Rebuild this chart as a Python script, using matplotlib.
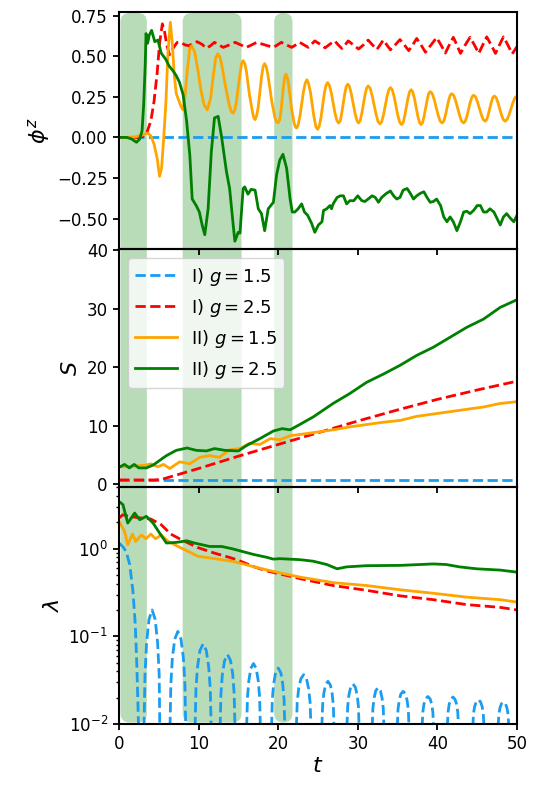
import numpy as np
import matplotlib
matplotlib.use("Agg")
import matplotlib.pyplot as plt
from matplotlib.patches import FancyBboxPatch
from matplotlib.transforms import IdentityTransform

# ---------------- data ----------------
labels = ["I) $g = 1.5$", "I) $g = 2.5$", "II) $g = 1.5$", "II) $g = 2.5$"]
colors = ['#1a9cf0', 'red', 'orange', 'green']
styles = ['--', '--', '-', '-']

shade_start = [0.2, 8.0, 19.5]
shade_end = [3.5, 15.4, 21.8]

# phi^z
phi_I15 = [(0, 0.0), (50, 0.0)]
phi_I25 = [(0, 0), (2.5, 0), (3.0, 0.005), (3.5, 0.03), (4.0, 0.1), (4.4, 0.22), (4.8, 0.40), (5.1, 0.58),
           (5.45, 0.70), (5.7, 0.66), (6.0, 0.57), (6.35, 0.51), (6.8, 0.55), (7.3, 0.585), (7.8, 0.585),
           (8.3, 0.57), (8.8, 0.565), (9.3, 0.58), (9.8, 0.59), (10.4, 0.575), (11.0, 0.55), (11.5, 0.565),
           (12.0, 0.586), (12.55, 0.57), (13.1, 0.555), (13.85, 0.57), (14.6, 0.586), (15.3, 0.57),
           (16.0, 0.555), (16.65, 0.57), (17.3, 0.586), (18.35, 0.57), (19.4, 0.555), (19.9, 0.57),
           (20.4, 0.586), (21.05, 0.57), (21.7, 0.555), (22.2, 0.57), (22.7, 0.586), (23.25, 0.57),
           (23.8, 0.555), (24.2, 0.575), (24.6, 0.595), (25.25, 0.575), (25.9, 0.552), (26.5, 0.575),
           (27.1, 0.595), (27.55, 0.57), (28.0, 0.548), (28.4, 0.57), (28.8, 0.595), (29.45, 0.57),
           (30.1, 0.545), (30.7, 0.57), (31.3, 0.6), (31.85, 0.57), (32.4, 0.542), (32.8, 0.57), (33.2, 0.6),
           (33.65, 0.57), (34.1, 0.54), (34.7, 0.57), (35.3, 0.603), (35.85, 0.57), (36.4, 0.535),
           (36.9, 0.57), (37.4, 0.61), (37.95, 0.57), (38.5, 0.525), (39.2, 0.57), (39.9, 0.615),
           (40.45, 0.57), (41.0, 0.52), (41.5, 0.57), (42.0, 0.617), (42.45, 0.57), (42.9, 0.518),
           (43.5, 0.57), (44.1, 0.617), (44.65, 0.57), (45.2, 0.518), (45.7, 0.57), (46.2, 0.62),
           (46.75, 0.57), (47.3, 0.518), (47.8, 0.57), (48.3, 0.62), (48.85, 0.57), (49.4, 0.515), (50, 0.56)]
phi_II15 = [(0, 0), (1, 0), (2, 0.003), (3, 0.015), (3.6, 0.027), (4.0, 0.01), (4.4, -0.04), (4.8, -0.13),
            (5.1, -0.24), (5.35, -0.19), (5.6, -0.02), (5.9, 0.22), (6.15, 0.52), (6.45, 0.71), (6.7, 0.58),
            (6.95, 0.38), (7.2, 0.27), (7.5, 0.23), (7.8, 0.19), (8.05, 0.17), (8.3, 0.26), (8.6, 0.42),
            (8.9, 0.55), (9.1, 0.565), (9.5, 0.53), (9.9, 0.42), (10.3, 0.29), (10.7, 0.2), (11.1, 0.17),
            (11.5, 0.24), (11.9, 0.40), (12.15, 0.49), (12.4, 0.515), (12.65, 0.5), (12.9, 0.45), (13.4, 0.31),
            (13.9, 0.19), (14.15, 0.155), (14.35, 0.15), (14.55, 0.17), (14.75, 0.22), (15.2, 0.39),
            (15.4, 0.455), (15.6, 0.473), (15.8, 0.455), (16.0, 0.41), (16.4, 0.26), (16.8, 0.15),
            (16.95, 0.12), (17.1, 0.11), (17.3, 0.135), (17.5, 0.19), (17.9, 0.37), (18.1, 0.435),
            (18.3, 0.455), (18.5, 0.435), (18.7, 0.39), (19.2, 0.22), (19.6, 0.12), (19.8, 0.095), (20.0, 0.09),
            (20.2, 0.11), (20.35, 0.16), (20.65, 0.31), (20.8, 0.37), (20.97, 0.39), (21.15, 0.37), (21.3, 0.33),
            (21.7, 0.17), (22.0, 0.09), (22.15, 0.065), (22.3, 0.058), (22.5, 0.075),
            (22.73, 0.13), (23.17, 0.28), (23.4, 0.335), (23.6, 0.355), (23.8, 0.335), (24.05, 0.28),
            (24.5, 0.125), (24.75, 0.065), (24.95, 0.05), (25.15, 0.068), (25.37, 0.12), (25.78, 0.266),
            (26.0, 0.32), (26.2, 0.338), (26.42, 0.322), (26.67, 0.276), (27.13, 0.151), (27.38, 0.103),
            (27.6, 0.089), (27.8, 0.102), (27.98, 0.149), (28.36, 0.268), (28.55, 0.315), (28.74, 0.328),
            (28.95, 0.315), (29.19, 0.268), (29.65, 0.149), (29.9, 0.102), (30.1, 0.089), (30.3, 0.103),
            (30.5, 0.146), (30.9, 0.26), (31.1, 0.303), (31.3, 0.317), (31.55, 0.303), (31.8, 0.259),
            (32.3, 0.142), (32.55, 0.097), (32.8, 0.083), (33.0, 0.097), (33.23, 0.139), (33.67, 0.251),
            (33.9, 0.294), (34.1, 0.307), (34.33, 0.294), (34.57, 0.25), (35.03, 0.136), (35.27, 0.093),
            (35.5, 0.079), (35.7, 0.092), (35.9, 0.133), (36.3, 0.24), (36.5, 0.281), (36.7, 0.294),
            (36.9, 0.281), (37.12, 0.24), (37.53, 0.133), (37.75, 0.092), (37.95, 0.079), (38.15, 0.092),
            (38.33, 0.13), (38.72, 0.231), (38.9, 0.27), (39.1, 0.282), (39.35, 0.27), (39.6, 0.234),
            (40.1, 0.137), (40.35, 0.1), (40.6, 0.089), (40.8, 0.1), (41.0, 0.134), (41.4, 0.225),
            (41.6, 0.259), (41.8, 0.27), (42.05, 0.259), (42.3, 0.225), (42.8, 0.134), (43.05, 0.1),
            (43.3, 0.089), (43.5, 0.1), (43.72, 0.132), (44.13, 0.217), (44.35, 0.25), (44.55, 0.26),
            (44.8, 0.25), (45.03, 0.22), (45.52, 0.14), (45.76, 0.11), (46.0, 0.1), (46.2, 0.11),
            (46.38, 0.139), (46.77, 0.216), (46.95, 0.245), (47.15, 0.255), (47.38, 0.245), (47.6, 0.216),
            (48.05, 0.139), (48.28, 0.11), (48.5, 0.1), (48.75, 0.11), (49.0, 0.139), (49.5, 0.216),
            (49.75, 0.245), (50.0, 0.255)]
phi_II25 = [(0, 0), (1.0, 0.0), (1.6, -0.01), (2.2, -0.03), (2.6, -0.01), (2.9, 0.04), (3.1, 0.2), (3.3, 0.45),
            (3.4, 0.64), (3.6, 0.58), (3.8, 0.63), (4.1, 0.66), (4.5, 0.59), (4.9, 0.60), (5.3, 0.52),
            (5.9, 0.48), (6.3, 0.44), (6.8, 0.41), (7.2, 0.38), (7.6, 0.34), (8.05, 0.265), (8.5, 0.1),
            (8.9, -0.11), (9.2, -0.38), (9.7, -0.42), (10.1, -0.46), (10.45, -0.54), (10.78, -0.60),
            (11.2, -0.44), (11.6, -0.09), (12.0, 0.12), (12.46, 0.13), (12.9, 0.0), (13.5, -0.21),
            (13.9, -0.315), (14.35, -0.54), (14.56, -0.64), (14.98, -0.585), (15.2, -0.59), (15.6, -0.315),
            (15.8, -0.305), (16.2, -0.35), (16.6, -0.32), (17.1, -0.325), (17.5, -0.44), (17.9, -0.47),
            (18.3, -0.575), (18.75, -0.44), (19.4, -0.40), (19.8, -0.23), (20.2, -0.14), (20.6, -0.104),
            (21.06, -0.19), (21.5, -0.38), (21.77, -0.46), (22.1, -0.46), (22.5, -0.44), (22.95, -0.41),
            (23.3, -0.46), (23.7, -0.48), (24.2, -0.53), (24.6, -0.585), (25.05, -0.54), (25.5, -0.52),
            (25.7, -0.45), (26.1, -0.44), (26.5, -0.42), (26.7, -0.44), (26.9, -0.41), (27.4, -0.37),
            (27.8, -0.36), (28.2, -0.36), (28.6, -0.41), (29.0, -0.39), (29.5, -0.39), (30.0, -0.36),
            (30.5, -0.39), (30.9, -0.395), (31.3, -0.38), (31.8, -0.36), (32.2, -0.37), (32.6, -0.40),
            (33.0, -0.37), (33.6, -0.345), (34.1, -0.33), (34.5, -0.36), (34.9, -0.38), (35.3, -0.37),
            (35.7, -0.325), (36.2, -0.315), (36.6, -0.345), (37.0, -0.38), (37.4, -0.36), (37.85, -0.345),
            (38.3, -0.335), (38.7, -0.37), (39.1, -0.40), (39.5, -0.395), (39.9, -0.38), (40.4, -0.42),
            (40.8, -0.49), (41.2, -0.52), (41.6, -0.49), (42.0, -0.52), (42.45, -0.575), (42.9, -0.52),
            (43.3, -0.46), (43.7, -0.455), (44.1, -0.47), (44.55, -0.45), (45.0, -0.42), (45.4, -0.42),
            (45.8, -0.46), (46.2, -0.46), (46.6, -0.44), (47.1, -0.46), (47.5, -0.50), (47.9, -0.54),
            (48.3, -0.49), (48.7, -0.47), (49.2, -0.50), (49.6, -0.52), (50.0, -0.48)]

# entropy S
S_I15 = [(0, 0.75), (50, 0.75)]
S_I25 = [(0, 0.75), (4.5, 0.75), (5.5, 0.9), (10, 2.7), (15, 4.8), (20, 6.8), (25, 8.8), (30, 10.8),
         (35, 12.7), (40, 14.5), (45, 16.1), (50, 17.6)]
S_II15 = [(0, 3.0), (1.0, 3.0), (2.0, 3.1), (3.45, 3.3), (4.0, 3.5), (4.9, 3.0), (5.6, 3.4), (6.38, 2.7),
          (7.64, 3.85), (8.9, 3.5), (10.15, 4.6), (11.4, 4.9), (12.6, 4.6), (13.9, 5.9), (15.2, 6.1),
          (16.4, 7.0), (17.7, 6.8), (19.0, 7.8), (20.2, 7.6), (21.5, 8.3), (22.7, 8.5), (24.8, 8.9),
          (26.9, 9.3), (29.0, 9.8), (31.1, 10.2), (33.2, 10.6), (35.3, 10.9), (37.4, 11.6), (39.5, 12.0),
          (41.6, 12.4), (43.7, 12.8), (45.8, 13.2), (47.9, 13.8), (50.0, 14.1)]
S_II25 = [(0, 2.9), (0.7, 3.4), (1.3, 2.8), (1.9, 3.4), (2.5, 2.8), (3.45, 2.8), (4.3, 3.3), (5.96, 4.9),
          (7.2, 5.8), (8.55, 6.2), (9.7, 5.8), (11.0, 5.7), (12.0, 6.1), (13.3, 5.8), (15.0, 5.7),
          (16.0, 6.6), (17.7, 7.8), (19.4, 9.1), (20.5, 9.5), (21.5, 9.3), (22.7, 10.2), (24.4, 11.5),
          (26.9, 13.8), (29.0, 15.5), (31.1, 17.4), (33.2, 18.8), (35.3, 20.3), (37.4, 22.0), (39.5, 23.4),
          (41.6, 25.1), (43.7, 26.8), (45.8, 28.2), (47.9, 30.2), (50.0, 31.5)]

# lambda
lam_I15 = [(0, 1.16), (0.5, 1.05), (0.9, 0.93), (1.35, 0.66), (1.75, 0.33), (2.05, 0.136), (2.25, 0.045),
           (2.38, 0.017), (2.45, 0.01), (2.6, 1e-3),
           (3.0, 1e-3), (3.15, 0.01), (3.27, 0.037), (3.47, 0.085), (3.77, 0.156), (4.16, 0.20), (4.55, 0.156),
           (4.85, 0.085), (5.05, 0.037), (5.12, 0.01), (5.25, 1e-3),
           (6.25, 1e-3), (6.42, 0.01), (6.52, 0.029), (6.71, 0.057), (7.01, 0.093), (7.4, 0.114), (7.79, 0.093),
           (8.09, 0.057), (8.28, 0.029), (8.38, 0.01), (8.55, 1e-3),
           (9.4, 1e-3), (9.57, 0.01), (9.67, 0.025), (9.87, 0.045), (10.17, 0.069), (10.57, 0.082),
           (10.97, 0.069), (11.27, 0.045), (11.47, 0.025), (11.57, 0.01), (11.75, 1e-3),
           (12.55, 1e-3), (12.72, 0.01), (12.81, 0.022), (12.99, 0.037), (13.27, 0.053), (13.64, 0.062),
           (14.01, 0.053), (14.29, 0.037), (14.47, 0.022), (14.56, 0.01), (14.75, 1e-3),
           (15.85, 1e-3), (16.05, 0.01), (16.14, 0.02), (16.31, 0.031), (16.56, 0.043), (16.9, 0.049),
           (17.24, 0.043), (17.5, 0.031), (17.67, 0.02), (17.75, 0.01), (17.95, 1e-3),
           (19.0, 1e-3), (19.18, 0.01), (19.26, 0.019), (19.43, 0.0286), (19.67, 0.0385), (20.0, 0.0435),
           (20.33, 0.0385), (20.57, 0.0286), (20.74, 0.019), (20.82, 0.01), (21.0, 1e-3),
           (22.1, 1e-3), (22.3, 0.01), (22.39, 0.0176), (22.57, 0.0252), (22.84, 0.0327), (23.2, 0.0365),
           (23.56, 0.0327), (23.83, 0.0252), (24.01, 0.0176), (24.1, 0.01), (24.3, 1e-3),
           (25.3, 1e-3), (25.5, 0.01), (25.58, 0.0163), (25.73, 0.0223), (25.95, 0.028), (26.25, 0.0307),
           (26.55, 0.028), (26.78, 0.0223), (26.93, 0.0163), (27.0, 0.01), (27.2, 1e-3),
           (28.45, 1e-3), (28.65, 0.01), (28.73, 0.0158), (28.88, 0.0212), (29.1, 0.0262), (29.4, 0.0286),
           (29.7, 0.0262), (29.93, 0.0212), (30.08, 0.0158), (30.15, 0.01), (30.35, 1e-3),
           (31.6, 1e-3), (31.83, 0.01), (31.9, 0.0152), (32.05, 0.0198), (32.26, 0.024), (32.55, 0.026),
           (32.84, 0.024), (33.05, 0.0198), (33.2, 0.0152), (33.27, 0.01), (33.5, 1e-3),
           (34.75, 1e-3), (34.98, 0.01), (35.05, 0.0146), (35.2, 0.0185), (35.41, 0.022), (35.7, 0.0236),
           (35.99, 0.022), (36.2, 0.0185), (36.35, 0.0146), (36.42, 0.01), (36.65, 1e-3),
           (37.9, 1e-3), (38.1, 0.01), (38.17, 0.0137), (38.31, 0.0168), (38.52, 0.0194), (38.8, 0.0206),
           (39.08, 0.0194), (39.29, 0.0168), (39.43, 0.0137), (39.5, 0.01), (39.7, 1e-3),
           (41.05, 1e-3), (41.27, 0.01), (41.34, 0.0136), (41.47, 0.0166), (41.68, 0.0191), (41.95, 0.0203),
           (42.22, 0.0191), (42.43, 0.0166), (42.56, 0.0136), (42.63, 0.01), (42.85, 1e-3),
           (44.25, 1e-3), (44.47, 0.01), (44.54, 0.0132), (44.67, 0.0157), (44.88, 0.0179), (45.15, 0.0189),
           (45.42, 0.0179), (45.63, 0.0157), (45.76, 0.0132), (45.83, 0.01), (46.05, 1e-3),
           (47.45, 1e-3), (47.65, 0.01), (47.72, 0.0129), (47.85, 0.0151), (48.04, 0.017), (48.3, 0.0178),
           (48.56, 0.017), (48.75, 0.0151), (48.88, 0.0129), (48.95, 0.01), (49.15, 1e-3), (50, 1e-3)]
lam_I25 = [(0, 2.24), (0.5, 2.44), (1.3, 2.33), (2.8, 2.24), (4.0, 2.18), (5.3, 1.88), (6.5, 1.47), (7.8, 1.27),
           (9.9, 1.03), (12.0, 0.89), (14.2, 0.78), (15.6, 0.70), (17.0, 0.62), (18.5, 0.56), (20.0, 0.52),
           (21.5, 0.485), (23.0, 0.45), (26.9, 0.38), (31.1, 0.335), (35.3, 0.29), (39.5, 0.262),
           (43.7, 0.23), (47.9, 0.214), (50, 0.20)]
lam_II15 = [(0, 2.05), (0.7, 1.58), (1.1, 1.11), (1.7, 1.47), (2.1, 1.21), (2.8, 1.43), (3.4, 1.3), (4.0, 1.47),
            (4.6, 1.3), (5.3, 1.43), (6.2, 1.21), (7.8, 1.02), (9.9, 0.82), (12.0, 0.77), (14.2, 0.72),
            (15.6, 0.67), (17.0, 0.62), (18.5, 0.575), (20.2, 0.53), (22.7, 0.475), (26.9, 0.41),
            (31.1, 0.38), (35.3, 0.34), (39.5, 0.31), (43.7, 0.28), (47.9, 0.262), (50, 0.246)]
lam_II25 = [(0, 3.46), (0.5, 3.18), (1.1, 1.96), (1.97, 2.55), (2.6, 2.14), (3.44, 2.34), (4.28, 1.96),
            (5.1, 1.51), (5.96, 1.16), (7.2, 1.18), (8.5, 1.23), (9.5, 1.16), (11.4, 1.06), (12.9, 1.06),
            (14.2, 1.0), (15.5, 0.93), (16.9, 0.86), (18.5, 0.80), (19.4, 0.76), (20.2, 0.77), (22.7, 0.75),
            (24.4, 0.72), (26.1, 0.66), (27.4, 0.59), (28.6, 0.62), (31.1, 0.64), (35.3, 0.645), (39.5, 0.67),
            (41.1, 0.66), (42.8, 0.62), (44.9, 0.59), (47.9, 0.57), (50, 0.54)]

phi_series = [phi_I15, phi_I25, phi_II15, phi_II25]
S_series = [S_I15, S_I25, S_II15, S_II25]
lam_series = [lam_I15, lam_I25, lam_II15, lam_II25]

# ---------------- figure ----------------
fig, axes = plt.subplots(3, 1, sharex=True, figsize=(5.45, 7.85), dpi=100)
fig.subplots_adjust(left=0.2183, right=0.9486, top=0.9847, bottom=0.0777, hspace=0)

for ax, series in zip(axes, [phi_series, S_series, lam_series]):
    for data, c, ls, lab in zip(series, colors, styles, labels):
        t, v = zip(*data)
        ax.plot(t, v, color=c, ls=ls, lw=2, label=lab)
    ax.set_facecolor('none')
    for sp in ax.spines.values():
        sp.set_linewidth(1.5)
    ax.tick_params(labelsize=12, width=1.3, length=4.5)
    ax.tick_params(which='minor', width=1.0, length=2.5)

ax1, ax2, ax3 = axes
ax1.set_ylim(-0.69, 0.773)
ax1.set_yticks([-0.5, -0.25, 0.0, 0.25, 0.5, 0.75])
ax1.set_ylabel(r'$\phi^z$', fontsize=16)

ax2.set_ylim(-0.4, 40.1)
ax2.set_yticks([0, 10, 20, 30, 40])
ax2.set_ylabel(r'$S$', fontsize=16)
ax2.legend(loc='upper left', fontsize=13, handlelength=2.3)

ax3.set_yscale('log')
ax3.set_ylim(1e-2, 5.1)
ax3.set_ylabel(r'$\lambda$', fontsize=16)
ax3.set_xlabel(r'$t$', fontsize=16, labelpad=2)
ax3.set_xlim(0, 50)
ax3.set_xticks([0, 10, 20, 30, 40, 50])

# shaded rounded regions spanning all panels (pixel coordinates)
y_top = ax1.bbox.y1 - 1.0
y_bot = ax3.bbox.y0 + 1.5
for s, e in zip(shade_start, shade_end):
    x0 = ax3.transData.transform((s, 1.0))[0]
    x1 = ax3.transData.transform((e, 1.0))[0]
    patch = FancyBboxPatch((x0, y_bot), x1 - x0, y_top - y_bot,
                           boxstyle="round,pad=0,rounding_size=9",
                           transform=IdentityTransform(), facecolor='green', alpha=0.28,
                           edgecolor='none', zorder=-1)
    fig.add_artist(patch)

fig.savefig('out.png', dpi=100)
